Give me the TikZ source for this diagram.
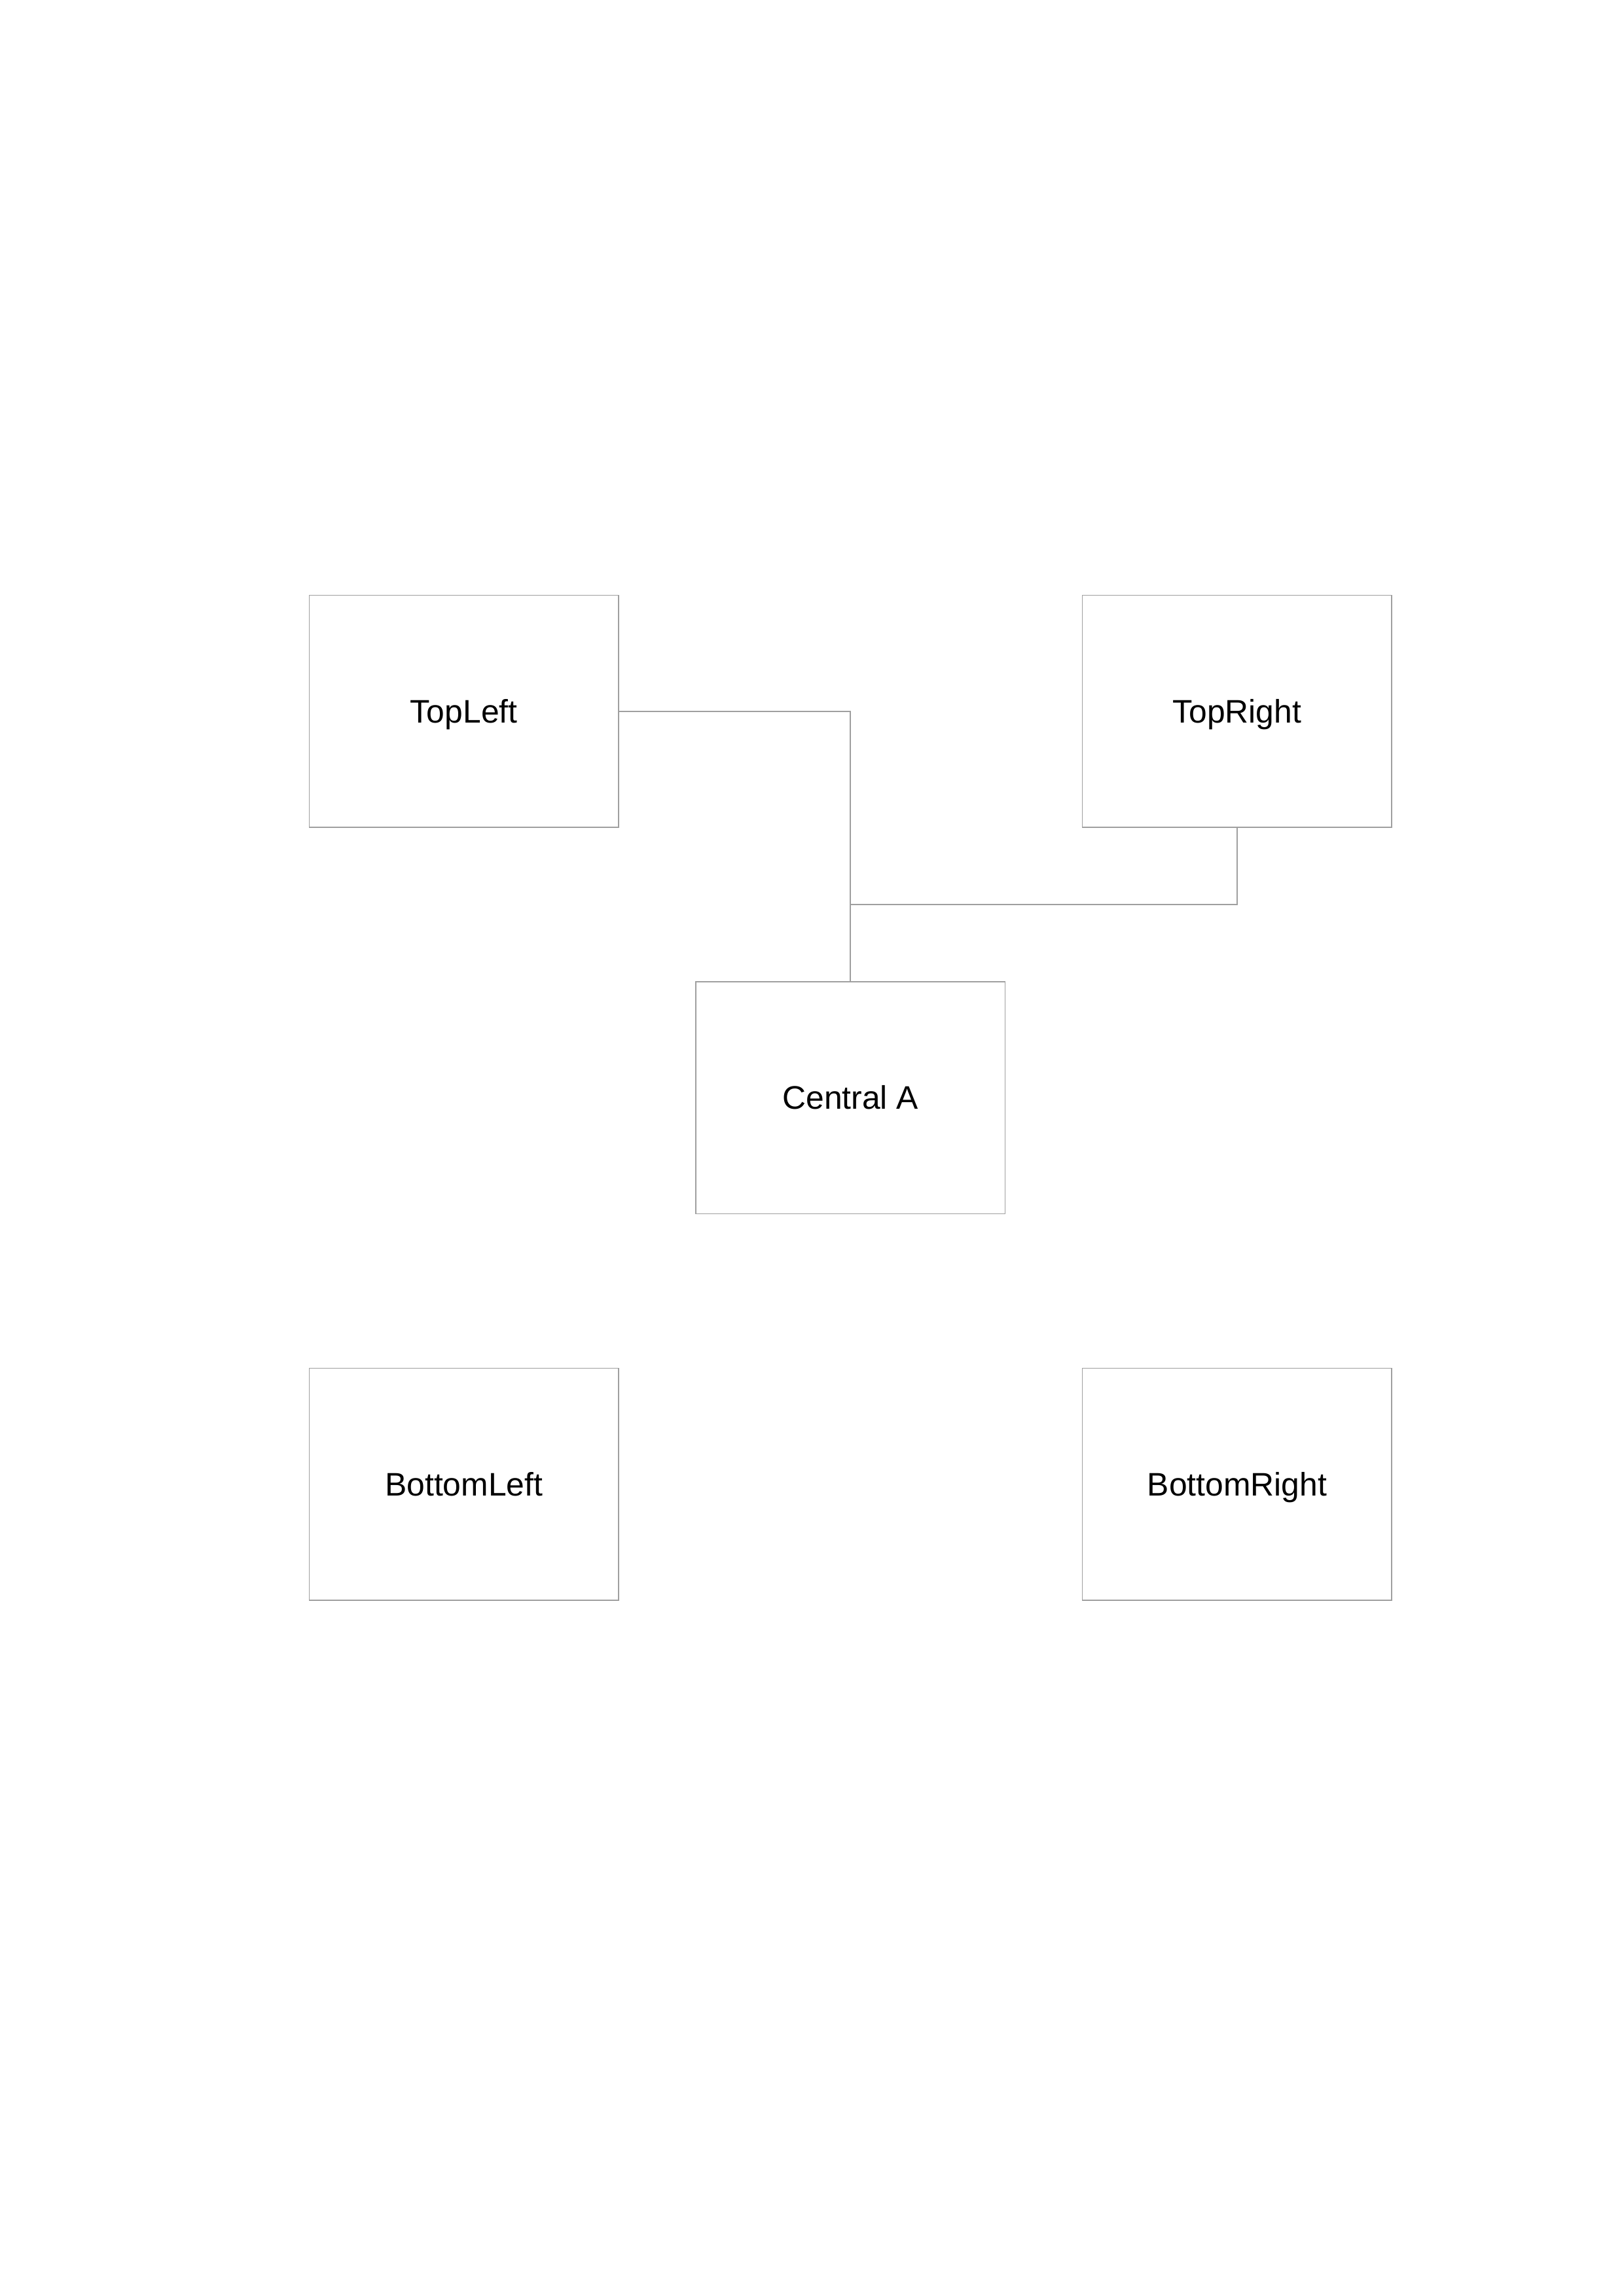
\documentclass[tikz,border=0pt]{standalone}
\usepackage{fontspec}
\setmainfont{Liberation Sans}
\begin{document}
\begin{tikzpicture}[
  box/.style={draw=gray!75, line width=0.4pt, minimum width=4cm, minimum height=3cm,
    inner sep=0pt, outer sep=0pt, text height=8.5pt, text depth=0pt,
    font=\fontsize{12}{14}\selectfont},
  link/.style={draw=gray!75, line width=0.4pt}
]
% A4 page
\useasboundingbox (0,0) rectangle (21,-29.7);

\node[box] (tl) at (6,-9.2)  {TopLeft};
\node[box] (tr) at (16,-9.2) {TopRight};
\node[box] (ca) at (11,-14.2) {Central A};
\node[box] (bl) at (6,-19.2)  {BottomLeft};
\node[box] (br) at (16,-19.2) {BottomRight};

\coordinate (j) at (11,-11.7);

\draw[link] (tl.east) -| (ca.north);
\draw[link] (tr.south) |- (j) -- (ca.north);
\end{tikzpicture}
\end{document}
